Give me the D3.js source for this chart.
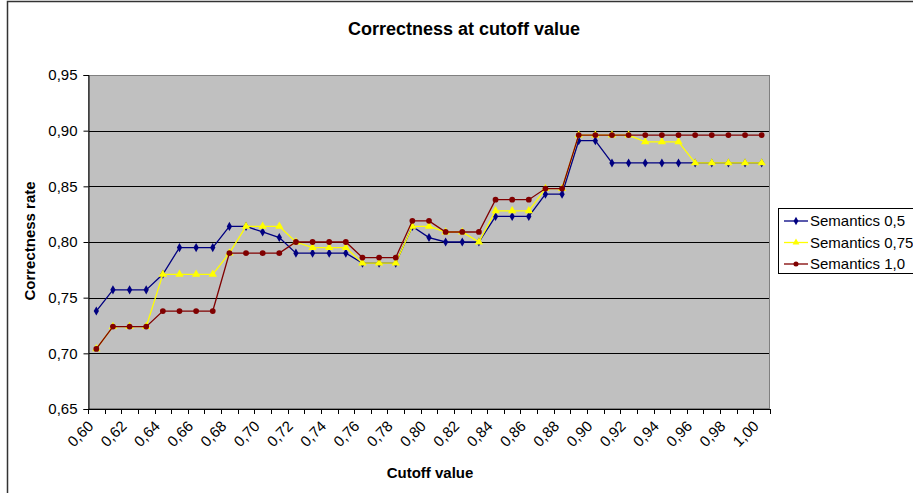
<!DOCTYPE html>
<html><head><meta charset="utf-8">
<script src="https://cdn.jsdelivr.net/npm/d3@7"></script>
<style>body{margin:0;background:#fff;}svg{display:block;font-family:"Liberation Sans",Arial,sans-serif;}</style>
</head><body>
<svg id="chart" width="913" height="493"></svg>
<script>
const categories = ["0,60","0,61","0,62","0,63","0,64","0,65","0,66","0,67","0,68","0,69","0,70","0,71","0,72","0,73","0,74","0,75","0,76","0,77","0,78","0,79","0,80","0,81","0,82","0,83","0,84","0,85","0,86","0,87","0,88","0,89","0,90","0,91","0,92","0,93","0,94","0,95","0,96","0,97","0,98","0,99","1,00"];
const sem05 = [0.738,0.757,0.757,0.757,0.771,0.795,0.795,0.795,0.814,0.814,0.809,0.804,0.790,0.790,0.790,0.790,0.781,0.781,0.781,0.814,0.804,0.800,0.800,0.800,0.823,0.823,0.823,0.843,0.843,0.891,0.891,0.871,0.871,0.871,0.871,0.871,0.871,0.871,0.871,0.871,0.871];
const sem075 = [0.704,0.724,0.724,0.724,0.771,0.771,0.771,0.771,0.790,0.814,0.814,0.814,0.800,0.795,0.795,0.795,0.781,0.781,0.781,0.814,0.814,0.809,0.809,0.800,0.828,0.828,0.828,0.848,0.848,0.896,0.896,0.896,0.896,0.890,0.890,0.890,0.871,0.871,0.871,0.871,0.871];
const sem10 = [0.704,0.724,0.724,0.724,0.738,0.738,0.738,0.738,0.790,0.790,0.790,0.790,0.800,0.800,0.800,0.800,0.786,0.786,0.786,0.819,0.819,0.809,0.809,0.809,0.838,0.838,0.838,0.848,0.848,0.896,0.896,0.896,0.896,0.896,0.896,0.896,0.896,0.896,0.896,0.896,0.896];
const yTicks = [0.65,0.70,0.75,0.80,0.85,0.90,0.95];
const seriesNames = ["Semantics 0,5","Semantics 0,75","Semantics 1,0"];
const seriesColors = ["#000080","#FFFF00","#800000"];
const seriesMarkers = ["diamond","triangle","circle"];
const seriesData = [sem05, sem075, sem10];
const labelEvery = 2;

const svg = d3.select("#chart");
const L = 88, R = 770, T = 75, B = 409;

// outer chart border
svg.append("path").attr("d", `M7.5,493 L7.5,1.5 L913,1.5`).attr("fill","none").attr("stroke","#333").attr("stroke-width",1.5);

const x = d3.scaleBand().domain(categories).range([L, R]).paddingInner(0).paddingOuter(0);
const y = d3.scaleLinear().domain([0.65, 0.95]).range([B, T]);

svg.append("rect").attr("x",L).attr("y",T).attr("width",R-L).attr("height",B-T).attr("fill","#C0C0C0");

// gridlines
svg.append("g").selectAll("line").data(yTicks.filter(d => d>0.651 && d<0.949)).join("line")
  .attr("x1",L).attr("x2",R).attr("y1",d=>Math.round(y(d))+0.5).attr("y2",d=>Math.round(y(d))+0.5)
  .attr("stroke","#000").attr("stroke-width",1);

// plot border
svg.append("rect").attr("x",L+0.5).attr("y",T+0.5).attr("width",R-L-1).attr("height",B-T-1)
  .attr("fill","none").attr("stroke","#808080").attr("stroke-width",1);

// y axis
const yAxis = d3.axisLeft(y).tickValues(yTicks).tickSize(5).tickPadding(6)
  .tickFormat(d => d3.format(".2f")(d).replace(".",","));
const gy = svg.append("g").attr("transform",`translate(${L+0.5},0)`).call(yAxis);
gy.select(".domain").attr("stroke","#000");
gy.selectAll(".tick line").attr("stroke","#000");
gy.selectAll("text").attr("font-size",15).attr("fill","#000").attr("font-family","Liberation Sans, Arial, sans-serif");

// x axis: ticks at category boundaries
const gx = svg.append("g");
gx.append("line").attr("x1",L).attr("x2",R).attr("y1",B+0.5).attr("y2",B+0.5).attr("stroke","#000");
const bounds = categories.map(c => x(c)).concat([R]);
gx.selectAll("line.tk").data(bounds).join("line").attr("class","tk")
  .attr("x1",d=>Math.round(d)+0.5).attr("x2",d=>Math.round(d)+0.5).attr("y1",B).attr("y2",B+5).attr("stroke","#000");
gx.selectAll("text").data(categories.filter((c,i)=>i%labelEvery===0)).join("text")
  .attr("transform", c => `translate(${x(c)+x.bandwidth()/2-2},${B+18}) rotate(-45)`)
  .attr("text-anchor","end").attr("font-size",15).attr("fill","#000")
  .text(c=>c);

// series
const line = d3.line().x((d,i)=>x(categories[i])+x.bandwidth()/2).y(d=>y(d));
seriesData.forEach((data, si) => {
  const g = svg.append("g");
  g.append("path").datum(data).attr("d",line).attr("fill","none")
    .attr("stroke",seriesColors[si]).attr("stroke-width",1.3);
  const sym = seriesMarkers[si]==="diamond" ? d3.symbolDiamond : seriesMarkers[si]==="triangle" ? d3.symbolTriangle : d3.symbolCircle;
  const size = seriesMarkers[si]==="diamond" ? 24 : seriesMarkers[si]==="triangle" ? 30 : 26;
  g.selectAll("path.m").data(data).join("path").attr("class","m")
    .attr("transform",(d,i)=>`translate(${x(categories[i])+x.bandwidth()/2},${y(d)})`)
    .attr("d", d3.symbol().type(sym).size(size)).attr("fill",seriesColors[si]);
});

// title
svg.append("text").attr("x",464).attr("y",35).attr("text-anchor","middle")
  .attr("font-size",18).attr("font-weight","bold").text("Correctness at cutoff value");
// axis titles
svg.append("text").attr("x",430).attr("y",478).attr("text-anchor","middle")
  .attr("font-size",15).attr("font-weight","bold").text("Cutoff value");
svg.append("text").attr("transform","translate(35,241) rotate(-90)").attr("text-anchor","middle")
  .attr("font-size",15).attr("font-weight","bold").text("Correctness rate");

// legend
const lg = svg.append("g");
lg.append("rect").attr("x",778.5).attr("y",208.5).attr("width",140).attr("height",65)
  .attr("fill","#fff").attr("stroke","#000").attr("stroke-width",1);
seriesNames.forEach((name, si) => {
  const cy = 221 + si*21.5;
  lg.append("line").attr("x1",784).attr("x2",808).attr("y1",cy).attr("y2",cy)
    .attr("stroke",seriesColors[si]).attr("stroke-width",1.3);
  const sym = seriesMarkers[si]==="diamond" ? d3.symbolDiamond : seriesMarkers[si]==="triangle" ? d3.symbolTriangle : d3.symbolCircle;
  lg.append("path").attr("transform",`translate(796,${cy})`).attr("d",d3.symbol().type(sym).size(20)).attr("fill",seriesColors[si]);
  lg.append("text").attr("x",810).attr("y",cy+5).attr("font-size",15).text(name);
});
</script>
</body></html>
